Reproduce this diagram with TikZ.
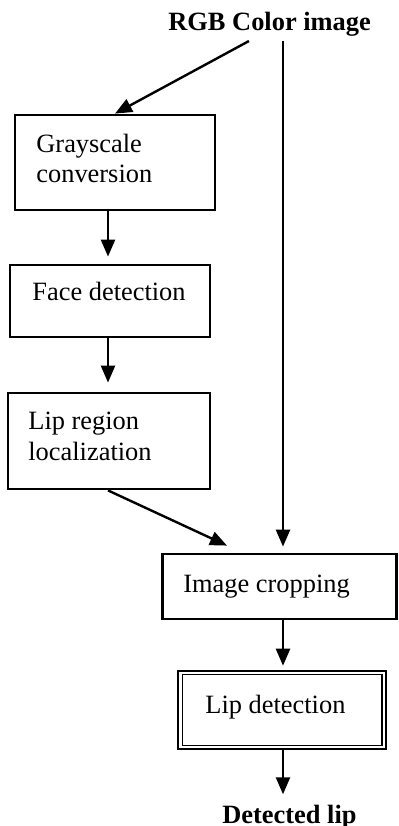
\documentclass[tikz,border=0pt]{standalone}
\usepackage{fontspec}
\setmainfont{Liberation Serif}
\usetikzlibrary{arrows.meta, calc}

\begin{document}
\begin{tikzpicture}[x=0.5pt, y=-0.5pt,
    box/.style={draw, line width=1.4pt, inner sep=0pt},
    arr/.style={-{Triangle[width=7pt, length=8.5pt]}, line width=1.2pt},
    txt/.style={anchor=base west, inner sep=0pt, align=left, font=\fontsize{13.2}{15.3}\selectfont}]
    \useasboundingbox (0,0) rectangle (398,826);
    % processing boxes
    \node [box, minimum width=100pt, minimum height=47.5pt] (gray) at (115,162.5) {};
    \node [box, minimum width=100pt, minimum height=36pt] (face) at (110,301) {};
    \node [box, minimum width=101pt, minimum height=48pt] (lipreg) at (109,441) {};
    \node [box, minimum width=117pt, minimum height=32.5pt] (crop) at (279.5,586.5) {};
    \node [box, line width=1.3pt, minimum width=104pt, minimum height=39pt] (lipdet) at (282,710) {};
    \draw [line width=0.7pt] ([xshift=2.75pt, yshift=2.5pt]lipdet.south west) rectangle ([xshift=-2.75pt, yshift=-2.5pt]lipdet.north east);
    % texts
    \node [txt, font=\fontsize{13.2}{15.3}\selectfont\bfseries] (rgb) at (168,30) {RGB Color image};
    \node [txt] at (36,182.7) {Grayscale\\conversion};
    \node [txt] at (32,300) {Face detection};
    \node [txt] at (28,460) {Lip region\\localization};
    \node [txt] at (183,592) {Image cropping};
    \node [txt] at (205,713) {Lip detection};
    \node [txt, font=\fontsize{13.2}{15.3}\selectfont\bfseries] (out) at (222,823) {Detected lip};
    % connectors
    \coordinate (split) at (283,41);
    \coordinate (colA) at (108,0);
    \draw [arr] (249,41) -- (gray.north);
    \draw [arr] (split) -- ([yshift=3pt]split |- crop.north);
    \draw [arr] (gray.south -| colA) -- ([yshift=3.5pt]face.north -| colA);
    \draw [arr] (face.south -| colA) -- ([yshift=4.5pt]lipreg.north -| colA);
    \draw [arr] (lipreg.south -| colA) -- ([xshift=-26.25pt, yshift=3.5pt]crop.north);
    \draw [arr] (crop.south -| split) -- ([yshift=2pt]lipdet.north -| split);
    \draw [arr] (lipdet.south -| split) -- ([yshift=5pt]out.north -| split);
\end{tikzpicture}
\end{document}
